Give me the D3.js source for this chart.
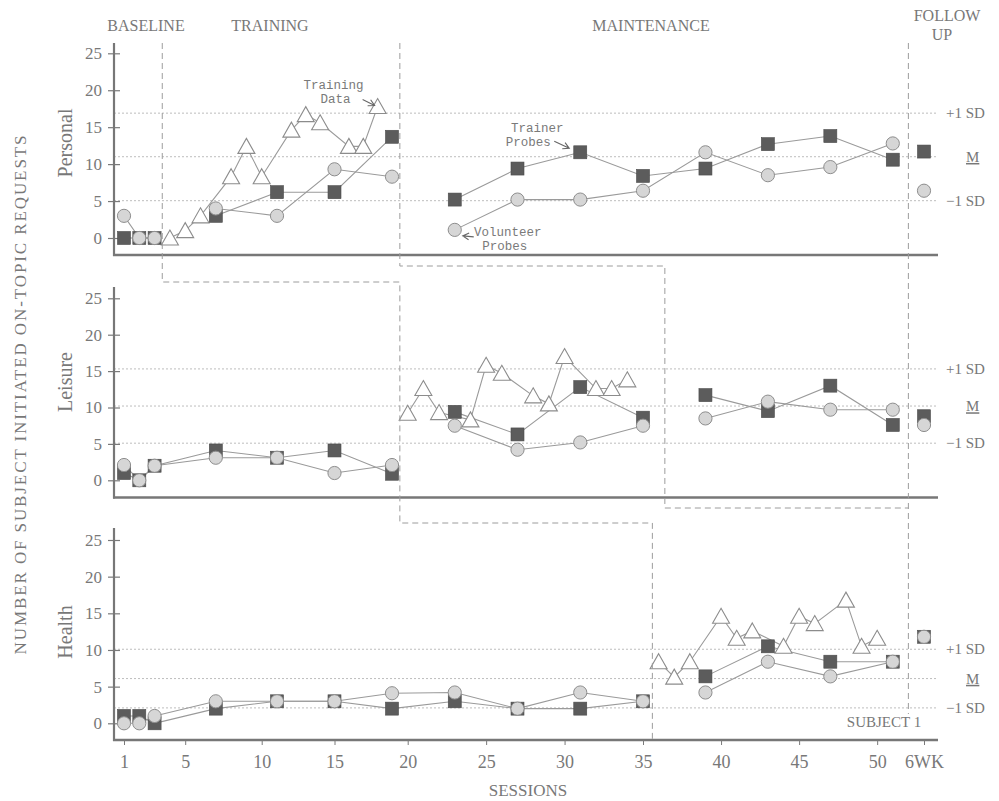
<!DOCTYPE html>
<html>
<head>
<meta charset="utf-8">
<script src="https://cdn.jsdelivr.net/npm/d3@7"></script>
<style>
  html, body { margin: 0; padding: 0; background: #fff; }
  svg { display: block; }
  text { font-family: "Liberation Serif", "DejaVu Serif", serif; fill: #787878; }
  text.mono { font-family: "Liberation Mono", "DejaVu Sans Mono", monospace; fill: #7a7a7a; }
</style>
</head>
<body>
<svg id="chart" width="999" height="801"></svg>
<script>
// ---- data ----------------------------------------------------------
// Probe sessions are shared by the three request categories.
const probeSessions = [1, 2, 3, 7, 11, 15, 19, 23, 27, 31, 35, 39, 43, 47, 51];
const followUpSession = 53;

const personalTrainer   = [0, 0, 0, 3, 6.2, 6.2, 13.7, 5.2, 9.4, 11.6, 8.4, 9.4, 12.7, 13.8, 10.6];
const personalVolunteer = [3, 0, 0, 4, 3, 9.3, 8.3, 1.1, 5.2, 5.2, 6.4, 11.6, 8.5, 9.6, 12.8];
const personalTrainingSessions = [4, 5, 6, 8, 9, 10, 12, 13, 14, 16, 17, 18];
const personalTraining  = [0, 1, 3, 8.3, 12.4, 8.3, 14.6, 16.7, 15.6, 12.4, 12.4, 17.8];

const leisureTrainer    = [1, 0, 2, 4.1, 3.1, 4.1, 0.9, 9.4, 6.3, 12.8, 8.6, 11.7, 9.5, 13, 7.6];
const leisureVolunteer  = [2.1, 0, 2, 3.1, 3.1, 1, 2.1, 7.5, 4.2, 5.2, 7.5, 8.5, 10.8, 9.7, 9.7];
const leisureTrainingSessions = [20, 21, 22, 24, 25, 26, 28, 29, 30, 32, 33, 34];
const leisureTraining   = [9.2, 12.6, 9.3, 8.3, 15.8, 14.7, 11.6, 10.5, 17, 12.6, 12.6, 13.8];

const healthTrainer     = [1, 1, 0, 2, 3, 3, 2, 3, 2, 2, 3, 6.4, 10.5, 8.4, 8.4];
const healthVolunteer   = [0, 0, 1, 3, 3, 3, 4.1, 4.2, 2, 4.2, 3, 4.2, 8.4, 6.4, 8.4];
const healthTrainingSessions = [36, 37, 38, 40, 41, 42, 44, 45, 46, 48, 49, 50];
const healthTraining    = [8.4, 6.3, 8.4, 14.6, 11.6, 12.6, 10.5, 14.6, 13.6, 16.8, 10.5, 11.6];

// Six-week follow-up (Personal, Leisure, Health)
const followUpTrainer   = [11.7, 8.8, 11.8];
const followUpVolunteer = [6.4, 7.6, 11.8];

// Normative band per category
const plusOneSD  = [16.9, 15.3, 10.1];
const meanLevel  = [11.0, 10.2, 6.1];
const minusOneSD = [5.05, 5.1, 2.1];

// Phase changes (in sessions) per category
const personalPhaseBreaks = [3.5, 19.5];
const leisurePhaseBreaks  = [19.5, 36.4];
const healthPhaseBreaks   = [35.6];
const followUpBreak = 52;

const panelNames = ["Personal", "Leisure", "Health"];
const phaseNames = ["BASELINE", "TRAINING", "MAINTENANCE"];
const yTickValues = [0, 5, 10, 15, 20, 25];
const xTickValues = [1, 5, 10, 15, 20, 25, 30, 35, 40, 45, 50, 53];
const xTickLabels = ["1", "5", "10", "15", "20", "25", "30", "35", "40", "45", "50", "6WK"];

// ---- layout --------------------------------------------------------
const svg = d3.select("#chart");
const INK = "#7a7a7a";
const LINE = "#9a9a9a";

const x = d3.scaleLinear()
  .domain([1, 11, 19, 35, 53])
  .range([124, 277, 392, 643, 924]);

const panelFrames = [
  { zero: 238,   top25: 53.3,  axisY: 255,   axisTop: 43,  labelY: 143 },
  { zero: 480.3, top25: 298.3, axisY: 497.5, axisTop: 287, labelY: 382 },
  { zero: 723.3, top25: 540,   axisY: 740,   axisTop: 528, labelY: 632 }
];
const axisX = 114;
const axisRight = 938;

const panels = [
  { trainer: personalTrainer, volunteer: personalVolunteer,
    tSessions: personalTrainingSessions, training: personalTraining, breaks: personalPhaseBreaks },
  { trainer: leisureTrainer, volunteer: leisureVolunteer,
    tSessions: leisureTrainingSessions, training: leisureTraining, breaks: leisurePhaseBreaks },
  { trainer: healthTrainer, volunteer: healthVolunteer,
    tSessions: healthTrainingSessions, training: healthTraining, breaks: healthPhaseBreaks }
];

// Split a series into runs that stay within one phase
function phaseRuns(points, breaks) {
  const edges = breaks.concat([followUpBreak]);
  const runs = [];
  let start = -Infinity;
  edges.forEach(e => {
    const run = points.filter(p => p.s > start && p.s < e);
    if (run.length > 1) runs.push(run);
    start = e;
  });
  return runs;
}

const triPath = "M0,-8L8.5,7L-8.5,7Z";

panels.forEach((pd, i) => {
  const fr = panelFrames[i];
  const y = d3.scaleLinear().domain([0, 25]).range([fr.zero, fr.top25]);
  const g = svg.append("g");

  // normative reference lines
  [plusOneSD[i], meanLevel[i], minusOneSD[i]].forEach(v => {
    g.append("line")
      .attr("x1", axisX).attr("x2", axisRight)
      .attr("y1", y(v)).attr("y2", y(v))
      .attr("stroke", "#bdbdbd").attr("stroke-width", 1)
      .attr("stroke-dasharray", "2,2");
  });
  const rl = g.append("g").attr("font-size", 15);
  rl.append("text").attr("x", 946).attr("y", y(plusOneSD[i])).attr("dy", "0.35em").text("+1 SD");
  rl.append("text").attr("x", 966).attr("y", y(meanLevel[i])).attr("dy", "0.35em")
    .attr("text-decoration", "underline").text("M");
  rl.append("text").attr("x", 946).attr("y", y(minusOneSD[i])).attr("dy", "0.35em").text("\u22121 SD");

  // y axis
  const ya = g.append("g").attr("transform", `translate(${axisX},0)`)
    .call(d3.axisLeft(y).tickValues(yTickValues).tickSize(6).tickPadding(8));
  ya.select(".domain").remove();
  ya.selectAll(".tick line").attr("x1", 6).attr("x2", -6).attr("stroke", INK).attr("stroke-width", 1.2);
  ya.selectAll(".tick text").attr("font-size", 17).attr("x", -12);
  g.append("line").attr("x1", axisX).attr("x2", axisX)
    .attr("y1", fr.axisTop).attr("y2", fr.axisY + 1)
    .attr("stroke", "#777").attr("stroke-width", 2.2);
  g.append("line").attr("x1", axisX - 1).attr("x2", axisRight)
    .attr("y1", fr.axisY).attr("y2", fr.axisY)
    .attr("stroke", "#777").attr("stroke-width", 2.6);

  // category label
  g.append("text")
    .attr("transform", `translate(72,${fr.labelY}) rotate(-90)`)
    .attr("text-anchor", "middle").attr("font-size", 20).text(panelNames[i]);

  // series
  const trainerPts = probeSessions.map((s, k) => ({ s, v: pd.trainer[k] }));
  const volunteerPts = probeSessions.map((s, k) => ({ s, v: pd.volunteer[k] }));
  const trainingPts = pd.tSessions.map((s, k) => ({ s, v: pd.training[k] }));
  const line = d3.line().x(d => x(d.s)).y(d => y(d.v));

  [trainingPts, trainerPts, volunteerPts].forEach(pts => {
    phaseRuns(pts, pd.breaks).forEach(run => {
      g.append("path").attr("d", line(run))
        .attr("fill", "none").attr("stroke", LINE).attr("stroke-width", 1.1);
    });
  });

  g.selectAll(".tri").data(trainingPts).join("path")
    .attr("transform", d => `translate(${x(d.s)},${y(d.v)})`)
    .attr("d", triPath)
    .attr("fill", "#fff").attr("stroke", "#8c8c8c").attr("stroke-width", 1.1);

  const sq = 13;
  const trainerAll = trainerPts.concat([{ s: followUpSession, v: followUpTrainer[i] }]);
  g.selectAll(".sq").data(trainerAll).join("rect")
    .attr("x", d => x(d.s) - sq / 2).attr("y", d => y(d.v) - sq / 2)
    .attr("width", sq).attr("height", sq)
    .attr("fill", "#5c5c5c").attr("stroke", "#4a4a4a").attr("stroke-width", 0.6);

  const volunteerAll = volunteerPts.concat([{ s: followUpSession, v: followUpVolunteer[i] }]);
  g.selectAll(".ci").data(volunteerAll).join("circle")
    .attr("cx", d => x(d.s)).attr("cy", d => y(d.v)).attr("r", 6.6)
    .attr("fill", "#d6d6d6").attr("stroke", "#8e8e8e").attr("stroke-width", 1);

  panels[i].y = y;
});

// ---- x axis (bottom panel) -----------------------------------------
const xa = svg.append("g").attr("transform", `translate(0,${panelFrames[2].axisY})`)
  .call(d3.axisBottom(x).tickValues(xTickValues)
    .tickFormat((d, k) => xTickLabels[k]).tickSize(5).tickPadding(10));
xa.select(".domain").remove();
xa.selectAll(".tick line").attr("stroke", INK);
xa.selectAll(".tick text").attr("font-size", 18);

svg.append("text").attr("x", 528).attr("y", 796).attr("text-anchor", "middle")
  .attr("font-size", 17).text("SESSIONS");

svg.append("text")
  .attr("transform", "translate(26,394) rotate(-90)")
  .attr("text-anchor", "middle").attr("font-size", 17).attr("letter-spacing", 1.9)
  .text("NUMBER OF SUBJECT INITIATED ON-TOPIC REQUESTS");

// ---- phase change lines --------------------------------------------
const dash = g => g.attr("fill", "none").attr("stroke", "#9c9c9c")
  .attr("stroke-width", 1).attr("stroke-dasharray", "6,4");
const stepLine = d3.line().x(d => d[0]).y(d => d[1]);
const f = panelFrames;

svg.append("path").call(dash).attr("d", stepLine([
  [x(personalPhaseBreaks[0]), f[0].axisTop], [x(personalPhaseBreaks[0]), 282],
  [x(leisurePhaseBreaks[0]), 282], [x(leisurePhaseBreaks[0]), 523],
  [x(healthPhaseBreaks[0]), 523], [x(healthPhaseBreaks[0]), f[2].axisY]
]));
svg.append("path").call(dash).attr("d", stepLine([
  [x(personalPhaseBreaks[1]), f[0].axisTop], [x(personalPhaseBreaks[1]), 266],
  [x(leisurePhaseBreaks[1]), 266], [x(leisurePhaseBreaks[1]), 508],
  [x(followUpBreak), 508]
]));
svg.append("path").call(dash).attr("d", stepLine([
  [x(followUpBreak), f[0].axisTop], [x(followUpBreak), 714]
]));

// ---- phase titles --------------------------------------------------
const pt = svg.append("g").attr("font-size", 16).attr("text-anchor", "middle");
pt.append("text").attr("x", 146).attr("y", 31).text(phaseNames[0]);
pt.append("text").attr("x", 270).attr("y", 31).text(phaseNames[1]);
pt.append("text").attr("x", 651).attr("y", 31).text(phaseNames[2]);
pt.append("text").attr("x", 947).attr("y", 21).text("FOLLOW");
pt.append("text").attr("x", 942).attr("y", 40).text("UP");

svg.append("text").attr("x", 884).attr("y", 727).attr("text-anchor", "middle")
  .attr("font-size", 15).text("SUBJECT 1");

// ---- annotations ---------------------------------------------------
function arrow(x1, y1, x2, y2) {
  const a = Math.atan2(y2 - y1, x2 - x1), h = 7, w = 0.5;
  const p = d3.path();
  p.moveTo(x1, y1); p.lineTo(x2, y2);
  p.moveTo(x2 - h * Math.cos(a - w), y2 - h * Math.sin(a - w));
  p.lineTo(x2, y2);
  p.lineTo(x2 - h * Math.cos(a + w), y2 - h * Math.sin(a + w));
  svg.append("path").attr("d", p.toString()).attr("fill", "none")
    .attr("stroke", "#666").attr("stroke-width", 1.1);
}
const note = svg.append("g").attr("font-size", 12.5).attr("text-anchor", "middle");
function noteText(tx, ty, str) {
  note.append("text").attr("class", "mono").attr("x", tx).attr("y", ty).text(str);
}

const yP = panels[0].y;
const td = [x(18), yP(17.8)];
noteText(td[0] - 44, td[1] - 17, "Training");
noteText(td[0] - 42, td[1] - 3, "Data");
arrow(td[0] - 15, td[1] - 7, td[0] - 3, td[1] - 1);

const tp = [x(31), yP(11.6)];
noteText(tp[0] - 43, tp[1] - 20, "Trainer");
noteText(tp[0] - 52, tp[1] - 6, "Probes");
arrow(tp[0] - 26, tp[1] - 11, tp[0] - 11, tp[1] - 4);

const vp = [x(23), yP(1.1)];
noteText(vp[0] + 53, vp[1] + 6, "Volunteer");
noteText(vp[0] + 50, vp[1] + 20, "Probes");
arrow(vp[0] + 19, vp[1] + 7, vp[0] + 8, vp[1] + 6);
</script>
</body>
</html>
